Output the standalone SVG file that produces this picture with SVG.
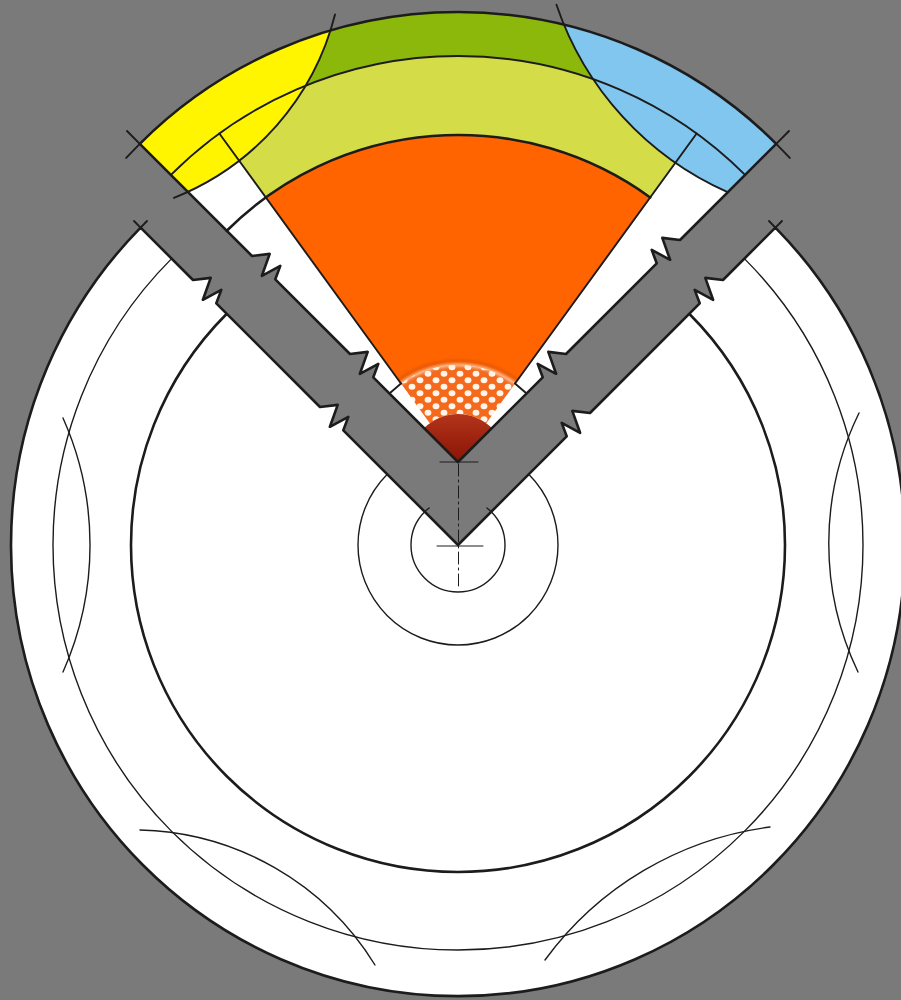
<svg xmlns="http://www.w3.org/2000/svg" width="901" height="1000" viewBox="0 0 901 1000">
  <defs>
    <style>
      .ink { fill: none; stroke: #1c1c1c; stroke-linecap: round; stroke-linejoin: round; }
      .heavy { stroke-width: 2.6; }
      .mid { stroke-width: 1.9; }
      .thin { stroke-width: 1.4; }
      .hair { stroke-width: 1; }
    </style>
    <!-- upper part of the lifted wedge, used to trim the plate colours -->
    <clipPath id="wedgeTop">
      <path d="M 458,462 L 139.8,143.8 A 450 450 0 0 1 776.2,143.8 Z"/>
    </clipPath>
    <!-- cut disc outline (with break marks) to trim the inner circles -->
    <clipPath id="discClip">
      <path d="M 140.6,227.6 L 193,280 L 210.7,277.9 L 202.9,299.8 L 221.3,289.9 L 216.3,303.3 L 320,407 L 337.7,404.9 L 329.9,426.8 L 348.3,416.9 L 343.3,430.3 L 458,545 L 566.7,436.3 L 561.7,422.9 L 580.1,432.8 L 572.3,410.9 L 590,413 L 699.7,303.3 L 694.7,289.9 L 713.1,299.8 L 705.3,277.9 L 723,280 L 775.4,227.6 A 447 451 0 1 1 140.6,227.6 Z"/>
    </clipPath>
    <pattern id="hatch" patternUnits="userSpaceOnUse" width="16" height="13">
      <rect width="16" height="13" fill="#F4691C"/>
      <ellipse cx="4" cy="3.2" rx="3.4" ry="3" fill="#FFF4E8"/>
      <ellipse cx="12" cy="9.7" rx="3.4" ry="3" fill="#FFF4E8"/>
    </pattern>
    <linearGradient id="coreFill" x1="0" y1="0" x2="0" y2="1">
      <stop offset="0" stop-color="#B3341A"/>
      <stop offset="1" stop-color="#8A1406"/>
    </linearGradient>
    <filter id="soft" x="-20%" y="-40%" width="140%" height="180%">
      <feGaussianBlur stdDeviation="1.4"/>
    </filter>
  </defs>

  <!-- backdrop -->
  <rect id="background" width="901" height="1000" fill="#7a7a7b"/>

  <!-- lower disc with the quarter notch cut out -->
  <g id="disc">
    <path d="M 140.6,227.6 L 193,280 L 210.7,277.9 L 202.9,299.8 L 221.3,289.9 L 216.3,303.3 L 320,407 L 337.7,404.9 L 329.9,426.8 L 348.3,416.9 L 343.3,430.3 L 458,545 L 566.7,436.3 L 561.7,422.9 L 580.1,432.8 L 572.3,410.9 L 590,413 L 699.7,303.3 L 694.7,289.9 L 713.1,299.8 L 705.3,277.9 L 723,280 L 775.4,227.6 A 447 451 0 1 1 140.6,227.6 Z" fill="#ffffff"/>
    <g clip-path="url(#discClip)">
      <circle cx="458" cy="545" r="405" class="ink thin"/>
      <circle cx="458" cy="545" r="327" class="ink heavy"/>
      <circle cx="458" cy="545" r="100" class="ink thin"/>
      <circle cx="458" cy="545" r="47" class="ink thin"/>
    </g>
    <!-- small overruns of the innermost circle into the notch -->
    <path d="M 424.8,511.8 A 47 47 0 0 1 429.1,508" class="ink thin"/>
    <path d="M 491.2,511.8 A 47 47 0 0 0 486.9,508" class="ink thin"/>
    <!-- lens arcs crossing the thin circle -->
    <path d="M 63,418 A 312 312 0 0 1 63,672" class="ink thin"/>
    <path d="M 859,413 A 297 297 0 0 0 858,672" class="ink thin"/>
    <path d="M 140,830 A 284 284 0 0 1 375,965" class="ink thin"/>
    <path d="M 770,827 A 332 332 0 0 0 545,960" class="ink thin"/>
    <!-- outline -->
    <path d="M 140.6,227.6 L 193,280 L 210.7,277.9 L 202.9,299.8 L 221.3,289.9 L 216.3,303.3 L 320,407 L 337.7,404.9 L 329.9,426.8 L 348.3,416.9 L 343.3,430.3 L 458,545 L 566.7,436.3 L 561.7,422.9 L 580.1,432.8 L 572.3,410.9 L 590,413 L 699.7,303.3 L 694.7,289.9 L 713.1,299.8 L 705.3,277.9 L 723,280 L 775.4,227.6 A 447 451 0 1 1 140.6,227.6 Z" class="ink heavy"/>
    <!-- corner ticks -->
    <path d="M 140.6,227.6 L 134,221 M 140.6,227.6 L 147,221" class="ink mid"/>
    <path d="M 775.4,227.6 L 782,221 M 775.4,227.6 L 769,221" class="ink mid"/>
    <!-- centre cross -->
    <path d="M 437,546 H 483" class="ink hair"/>
  </g>

  <!-- lifted wedge showing the layers -->
  <g id="wedge">
    <path d="M 458,462 L 373.3,377.3 L 378.3,363.9 L 359.9,373.8 L 367.7,351.9 L 350,354 L 275.3,279.3 L 280.3,265.9 L 261.9,275.8 L 269.7,253.9 L 252,256 L 139.8,143.8 A 450 450 0 0 1 776.2,143.8 L 680,240 L 662.3,237.9 L 670.1,259.8 L 651.7,249.9 L 656.7,263.3 L 566,354 L 548.3,351.9 L 556.1,373.8 L 537.7,363.9 L 542.7,377.3 Z" fill="#ffffff"/>

    <!-- outer band -->
    <path d="M 139.8,143.8 A 450 450 0 0 1 776.2,143.8 L 745.08,174.92 A 406 406 0 0 0 170.92,174.92 Z" fill="#8CB80C"/>
    <!-- second band -->
    <path d="M 219.36,133.54 A 406 406 0 0 1 696.64,133.54 L 650.21,197.45 A 327 327 0 0 0 265.79,197.45 Z" fill="#D4DC48"/>
    <!-- orange layer -->
    <path d="M 265.79,197.45 A 327 327 0 0 1 650.21,197.45 L 515.02,383.53 A 97 97 0 0 0 400.98,383.53 Z" fill="#FF6400"/>
    <!-- patterned layer -->
    <path d="M 400.98,383.53 A 97 97 0 0 1 515.02,383.53 L 486.21,423.17 A 48 48 0 0 0 429.79,423.17 Z" fill="url(#hatch)"/>
    <path d="M 398.63,380.29 A 101 101 0 0 1 517.37,380.29" fill="none" stroke="#C9480A" stroke-width="3" opacity="0.5" filter="url(#soft)"/>
    <path d="M 400.98,383.53 A 97 97 0 0 1 515.02,383.53" fill="none" stroke="#FFEFDF" stroke-width="2.5" opacity="0.8" filter="url(#soft)"/>
    <!-- core -->
    <path d="M 458,462 L 424.06,428.06 A 48 48 0 0 1 491.94,428.06 Z" fill="url(#coreFill)"/>

    <!-- side plates -->
    <g clip-path="url(#wedgeTop)">
      <circle cx="75.4" cy="-51.2" r="267.8" fill="#FFF500"/>
      <circle cx="855.5" cy="-96.5" r="315.7" fill="#80C6EE"/>
    </g>

    <!-- layer lines -->
    <path d="M 170.92,174.92 A 406 406 0 0 1 745.08,174.92" class="ink mid"/>
    <path d="M 226.78,230.78 A 327 327 0 0 1 650.21,197.45" class="ink heavy"/>
    <path d="M 219.36,133.54 L 400.98,383.53 M 696.64,133.54 L 515.02,383.53" class="ink mid"/>
    <path d="M 389.41,393.41 L 400.98,383.53 M 515.02,383.53 L 526.59,393.41" class="ink mid"/>
    <!-- plate boundaries -->
    <path d="M 335.02,14.49 A 267.8 267.8 0 0 1 173.98,197.8" class="ink mid"/>
    <path d="M 556.47,4.72 A 315.7 315.7 0 0 0 727.61,192.14" class="ink mid"/>

    <!-- outline -->
    <path d="M 458,462 L 373.3,377.3 L 378.3,363.9 L 359.9,373.8 L 367.7,351.9 L 350,354 L 275.3,279.3 L 280.3,265.9 L 261.9,275.8 L 269.7,253.9 L 252,256 L 139.8,143.8 A 450 450 0 0 1 776.2,143.8 L 680,240 L 662.3,237.9 L 670.1,259.8 L 651.7,249.9 L 656.7,263.3 L 566,354 L 548.3,351.9 L 556.1,373.8 L 537.7,363.9 L 542.7,377.3 Z" class="ink heavy"/>
    <!-- corner ticks -->
    <path d="M 139.8,143.8 L 127,131 M 139.8,143.8 A 450 450 0 0 0 126.22,157.98" class="ink mid"/>
    <path d="M 776.2,143.8 L 789,131 M 776.2,143.8 A 450 450 0 0 1 789.78,157.98" class="ink mid"/>
  </g>

  <!-- centre marks -->
  <g id="axis">
    <path d="M 440,462 H 478" class="ink hair"/>
    <path d="M 458.5,464 V 586" class="ink hair" stroke-dasharray="12 4 2 4"/>
  </g>
</svg>
